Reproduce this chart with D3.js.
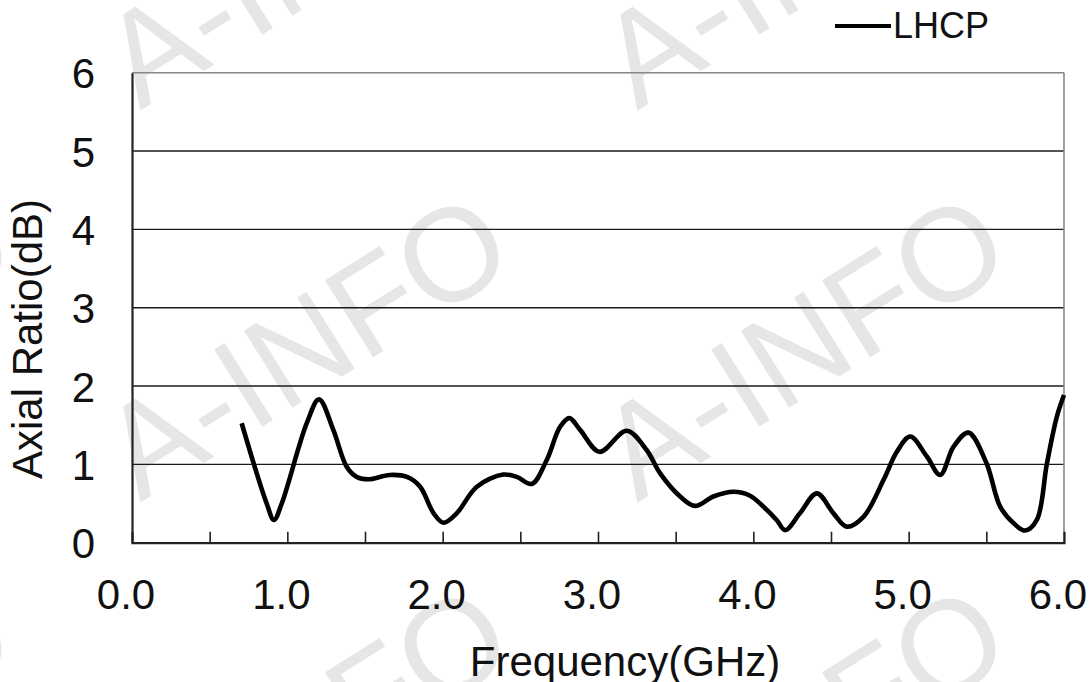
<!DOCTYPE html>
<html>
<head>
<meta charset="utf-8">
<script src="https://cdn.jsdelivr.net/npm/d3@7"></script>
<style>
  body { margin: 0; background: #fff; }
  text { font-family: "Liberation Sans", Arial, sans-serif; }
</style>
</head>
<body>
<div id="chart"></div>
<script>
// frequency (GHz) and axial ratio (dB)
const freq = [0.706, 0.867, 0.914, 0.964, 1.125, 1.204, 1.296, 1.382, 1.447, 1.52,
  1.66, 1.77, 1.855, 1.942, 2.005, 2.09, 2.22, 2.39, 2.477, 2.574, 2.67, 2.756, 2.816, 2.885,
  3.01, 3.185, 3.314, 3.40, 3.529, 3.625, 3.743, 3.872, 3.979, 4.065, 4.15, 4.205, 4.30, 4.409,
  4.516, 4.602, 4.709, 4.838, 4.924, 5.01, 5.117, 5.203, 5.289, 5.385, 5.50, 5.589, 5.675,
  5.75, 5.825, 5.89, 5.954, 6.0]
const lhcp = [1.525, 0.50, 0.29, 0.50, 1.525, 1.83, 1.44, 0.97, 0.84, 0.81,
  0.865, 0.84, 0.715, 0.375, 0.255, 0.375, 0.715, 0.87, 0.84, 0.75, 1.056, 1.48, 1.59, 1.44,
  1.16, 1.43, 1.18, 0.886, 0.59, 0.47, 0.59, 0.65, 0.60, 0.46, 0.29, 0.16, 0.375, 0.63,
  0.375, 0.205, 0.33, 0.80, 1.16, 1.355, 1.10, 0.865, 1.226, 1.405, 1.02, 0.46, 0.25,
  0.155, 0.29, 1.01, 1.61, 1.885]
const xTicks = [0, 1, 2, 3, 4, 5, 6]
const xMinorTicks = [0.5, 1, 1.5, 2, 2.5, 3, 3.5, 4, 4.5, 5, 5.5]
const yTicks = [0, 1, 2, 3, 4, 5, 6]
const seriesName = "LHCP"
const watermark = "A-INFO"

const W = 1090, H = 682
const margin = {top: 72.7, right: 26, bottom: 139.3, left: 132}
const width = W - margin.left - margin.right
const height = H - margin.top - margin.bottom

const svg = d3.select("#chart").append("svg")
    .attr("width", W)
    .attr("height", H)

// faint watermark tiled behind everything
const wm = svg.append("g").attr("class", "watermark")
;[140 - 497, 140, 140 + 497].forEach(x0 => {
    [503 - 392, 503, 503 + 392].forEach(y0 => {
        wm.append("text")
            .attr("transform", `translate(${x0},${y0}) rotate(-32)`)
            .attr("font-size", 132)
            .attr("fill", "#e6e6e6")
            .text(watermark)
    })
})

const g = svg.append("g")
    .attr("transform", `translate(${margin.left},${margin.top})`)

const x = d3.scaleLinear().domain([0, 6]).range([0, width])
const y = d3.scaleLinear().domain([0, 6]).range([height, 0])

// horizontal grid
g.append("g").attr("class", "grid")
    .selectAll("line").data(yTicks.filter(d => d > 0 && d < 6)).join("line")
    .attr("x1", 0).attr("x2", width)
    .attr("y1", d => y(d)).attr("y2", d => y(d))
    .attr("stroke", "#1a1a1a").attr("stroke-width", 1.4)

// frame: gray top/right, dark left/bottom
g.append("line").attr("x1", 0).attr("x2", width).attr("y1", 0).attr("y2", 0)
    .attr("stroke", "#888").attr("stroke-width", 1.6)
g.append("line").attr("x1", width).attr("x2", width).attr("y1", 0).attr("y2", height)
    .attr("stroke", "#888").attr("stroke-width", 1.6)

const xAxis = d3.axisBottom(x).tickValues(xMinorTicks).tickSize(-11).tickFormat("")
g.append("g")
    .attr("class", "x-axis")
    .attr("transform", `translate(0,${height})`)
    .call(xAxis)
    .call(s => s.select(".domain").attr("stroke", "#222").attr("stroke-width", 2.2))
    .call(s => s.selectAll(".tick line").attr("stroke", "#222").attr("stroke-width", 1.6))

g.append("g").attr("class", "x-labels")
    .selectAll("text").data(xTicks).join("text")
    .attr("x", d => x(d) - 6)
    .attr("y", height + 66.6)
    .attr("text-anchor", "middle")
    .attr("font-size", 42)
    .attr("fill", "#111")
    .text(d => d.toFixed(1))

const yAxis = d3.axisLeft(y).tickValues(yTicks).tickSize(0).tickPadding(37)
    .tickFormat(d3.format("d"))
g.append("g")
    .attr("class", "y-axis")
    .call(yAxis)
    .call(s => s.select(".domain").attr("stroke", "#222").attr("stroke-width", 2.2))
    .call(s => s.selectAll(".tick text")
        .attr("font-size", 42)
        .attr("fill", "#111")
        .attr("font-family", "Liberation Sans, Arial, sans-serif")
        .attr("dy", "0.358em"))

// the curve
const line = d3.line()
    .x((d, i) => x(freq[i]))
    .y(d => y(d))
    .curve(d3.curveCatmullRom.alpha(0.5))

g.append("path")
    .datum(lhcp)
    .attr("d", line)
    .attr("fill", "none")
    .attr("stroke", "#000")
    .attr("stroke-width", 4.6)
    .attr("stroke-linejoin", "round")

// axis titles
svg.append("text")
    .attr("x", 625)
    .attr("y", 676)
    .attr("text-anchor", "middle")
    .attr("font-size", 42)
    .attr("fill", "#111")
    .text("Frequency(GHz)")

svg.append("text")
    .attr("transform", "translate(42,339) rotate(-90)")
    .attr("text-anchor", "middle")
    .attr("font-size", 42)
    .attr("fill", "#111")
    .text("Axial Ratio(dB)")

// legend
const legend = svg.append("g").attr("transform", "translate(835,26)")
legend.append("line")
    .attr("x1", 0).attr("x2", 56).attr("y1", 0).attr("y2", 0)
    .attr("stroke", "#000").attr("stroke-width", 4.2)
legend.append("text")
    .attr("x", 58).attr("y", 12.4)
    .attr("font-size", 36)
    .attr("fill", "#111")
    .text(seriesName)
</script>
</body>
</html>
